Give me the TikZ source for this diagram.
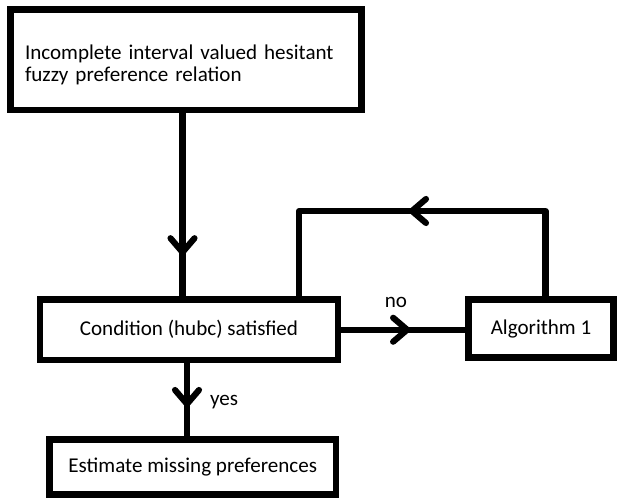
\documentclass[tikz,border=0pt]{standalone}
\usepackage{fontspec}
\setmainfont{Carlito}
\usetikzlibrary{arrows.meta,decorations.markings,calc}
\begin{document}
\begin{tikzpicture}[x=0.75pt,y=-0.75pt,
  box/.style={draw=black,line width=4.8pt,fill=white,inner sep=0pt,font=\fontsize{15.8}{16.5}\selectfont},
  lbl/.style={font=\fontsize{15.8}{16.5}\selectfont,inner sep=0pt},
  conn/.style={line width=4.6pt,line join=round},
  midarrow/.style={postaction={decorate},decoration={markings,
     mark=at position #1 with {\arrow{Straight Barb[length=10.5pt,width=18pt,line width=4.6pt,round]}}}}
]
\useasboundingbox (0,0) rectangle (617,498);
\node[box,minimum width={351*0.75pt},minimum height={100.5*0.75pt},text width={322*0.75pt},align=left] (b1) at (186,59.75)
  {\rule{0pt}{18pt}Incomplete interval valued hesitant\\fuzzy preference relation};
\node[box,minimum width={298*0.75pt},minimum height={60.5*0.75pt}] (b2) at (189,329.75) {Condition (hubc) satisfied};
\node[box,minimum width={145*0.75pt},minimum height={58*0.75pt}] (alg) at (541,328.5) {Algorithm 1};
\node[box,minimum width={286.5*0.75pt},minimum height={55*0.75pt}] (b3) at (192.75,467) {Estimate missing preferences};
\node[lbl] (no) at (396,302) {no};
\node[lbl] (yes) at (224,402) {yes};
\coordinate (tr) at (545.5,211);
\coordinate (tl) at (299,211);
\draw[conn,midarrow=0.776] ([xshift=-3.5*0.75pt]b1.south) -- ([xshift=-3.5*0.75pt]b1.south |- b2.north);
\draw[conn,midarrow=0.556] (b2.east) -- (b2.east -| alg.west);
\draw[conn,midarrow=0.60] ([xshift=-2*0.75pt]b2.south) -- ([xshift=-2*0.75pt]b2.south |- b3.north);
\draw[conn,midarrow=0.532] (alg.north -| tr) -- (tr) -- (tl) -- (tl |- b2.north);
\end{tikzpicture}
\end{document}
